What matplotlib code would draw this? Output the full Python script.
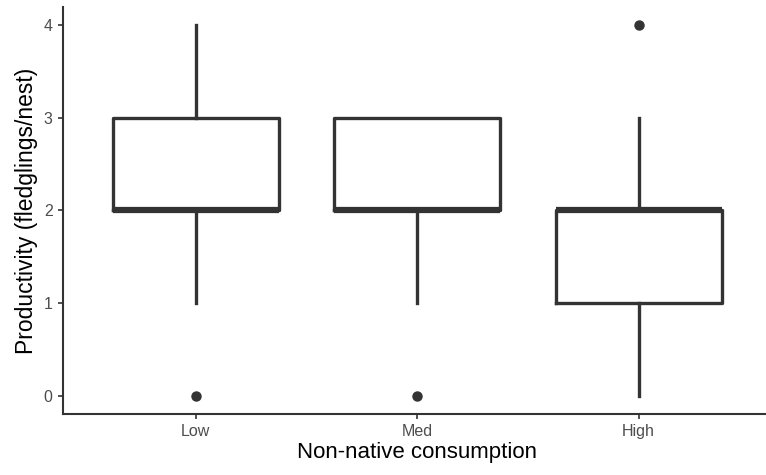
import matplotlib
matplotlib.use('Agg')
import matplotlib.pyplot as plt

plt.rcParams['font.family'] = ['Liberation Sans', 'DejaVu Sans']

categories = ["Low", "Med", "High"]
q1 = [2, 2, 1]
med = [2, 2, 2]
q3 = [3, 3, 2]
whislo = [1, 1, 0]
whishi = [4, 3, 3]
fliers = [[0], [0], [4]]

dark = '#333333'
stats = []
for i, c in enumerate(categories):
    stats.append({'label': c, 'q1': q1[i], 'med': med[i], 'q3': q3[i],
                  'whislo': whislo[i], 'whishi': whishi[i], 'fliers': fliers[i]})

fig = plt.figure(figsize=(7.66, 4.75), dpi=100)
ax = fig.add_axes([0.0822, 0.1284, 0.925, 0.857])

ax.bxp(stats, positions=[1, 2, 3], widths=0.75, showcaps=False,
       boxprops=dict(color=dark, linewidth=2.4),
       whiskerprops=dict(color=dark, linewidth=2.4),
       medianprops=dict(color=dark, linewidth=4.5, solid_capstyle='butt'),
       flierprops=dict(marker='o', markerfacecolor=dark, markeredgecolor=dark, markersize=6.5))

ax.set_xlim(0.4, 3.6)
ax.set_ylim(-0.2, 4.2)
ax.set_yticks([0, 1, 2, 3, 4])
ax.set_xticks([1, 2, 3])
ax.set_xticklabels(categories)

for s in ['top', 'right']:
    ax.spines[s].set_visible(False)
for s in ['left', 'bottom']:
    ax.spines[s].set_color(dark)
    ax.spines[s].set_linewidth(1.5)
ax.tick_params(colors='#333333', labelcolor='#4d4d4d', labelsize=11.5, length=3.5, width=1.2, pad=4)

ax.set_xlabel('Non-native consumption', fontsize=16, color='black', labelpad=2)
ax.set_ylabel('Productivity (fledglings/nest)', fontsize=16.5, color='black', labelpad=4)

fig.savefig('out.png', dpi=100)
